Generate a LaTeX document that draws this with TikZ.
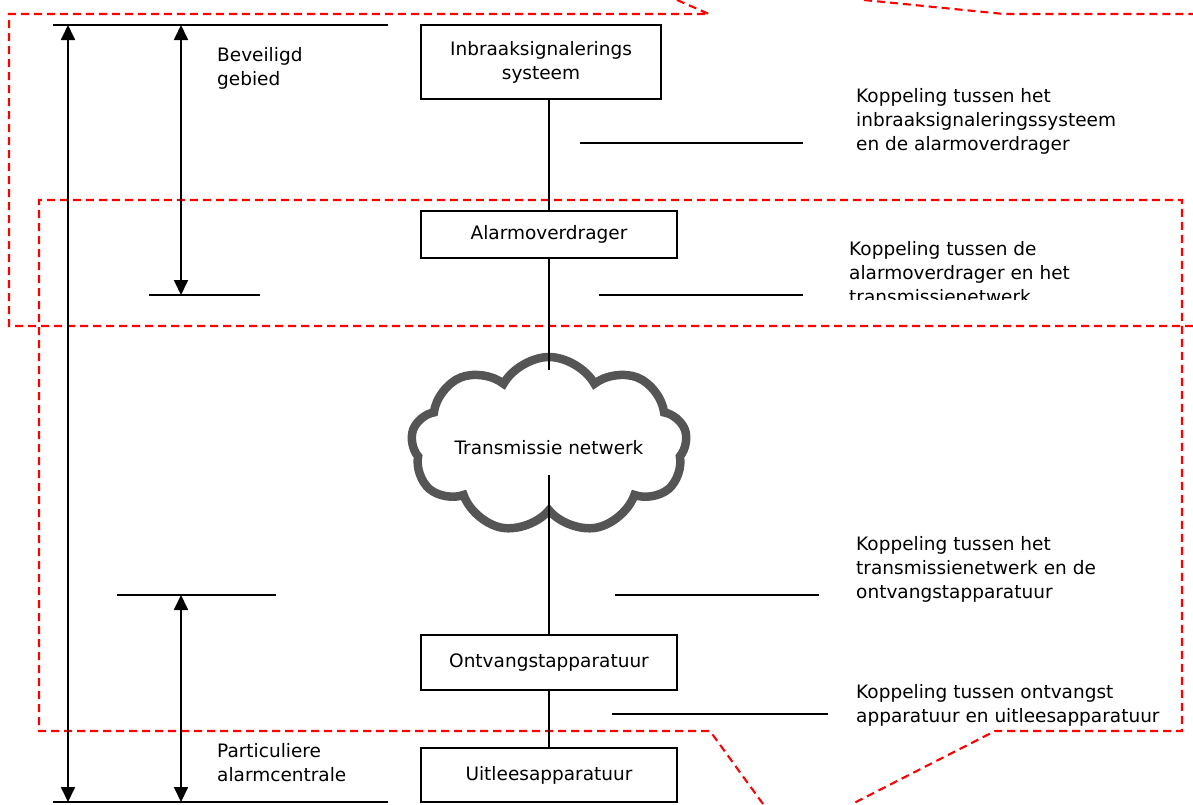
\documentclass[tikz,border=0pt]{standalone}
\usepackage{fontspec}
\setmainfont{DejaVu Sans}
\usetikzlibrary{arrows.meta,shapes.symbols}
\definecolor{cloudgray}{HTML}{555555}
\begin{document}
\begin{tikzpicture}[x=1pt,y=-1pt,
  every node/.style={font=\fontsize{18.5}{24}\selectfont},
  box/.style={draw=black,line width=1.8pt,inner sep=0pt},
  lbl/.style={anchor=west,align=left,inner sep=0pt},
  blk/.style={draw=black,line width=1.8pt},
  dim/.style={draw=black,line width=1.8pt,{Triangle[length=15pt,width=14pt]}-{Triangle[length=15pt,width=14pt]}},
  reddash/.style={draw=red,line width=2.1pt,dash pattern=on 8pt off 5pt},
  cloudline/.style={cloud,cloud puffs=9,cloud puff arc=122,aspect=1.6,draw=cloudgray,fill=white,line width=8.5pt}]
\useasboundingbox (0,0) rectangle (1193,804);

% red dashed regions
\draw[reddash] (677,0) -- (709,14) -- (9,14) -- (9,326) -- (1193,326);
\draw[reddash] (864,0) -- (1004,14) -- (1193,14);
\draw[reddash] (763,804) -- (710,731) -- (39,731) -- (39,200) -- (1182,200) -- (1182,731) -- (995,731) -- (852,804);

% boxes
\node[box,minimum width=240pt,minimum height=74pt,align=center] (ibs) at (541,62) {Inbraaksignalerings\\systeem};
\node[box,minimum width=256pt,minimum height=47pt] (amo) at (549,234.5) {Alarmoverdrager};
\node[box,minimum width=256pt,minimum height=55pt] (ont) at (549,662.5) {Ontvangstapparatuur};
\node[box,minimum width=256pt,minimum height=54pt] (uit) at (549,775) {Uitleesapparatuur};

% cloud
\node[cloudline,minimum width=276pt,minimum height=176pt] (cloudshape) at (549,445) {};
\node (net) at (549,448) {Transmissie netwerk};
\coordinate (nettop) at (549,370);
\coordinate (netbot) at (549,475);

% vertical chain
\draw[blk] (ibs.south -| amo.north) -- (amo.north);
\draw[blk] (amo.south) -- (nettop);
\draw[blk] (netbot) -- (ont.north);
\draw[blk] (ont.south) -- (uit.north);

% left measurement lines
\coordinate (t1) at (53,25);  \coordinate (t2) at (388,25);
\coordinate (b1) at (53,802); \coordinate (b2) at (388,802);
\coordinate (m1) at (149,295); \coordinate (m2) at (260,295);
\coordinate (n1) at (117,595); \coordinate (n2) at (276,595);
\draw[blk] (t1) -- (t2);
\draw[blk] (b1) -- (b2);
\draw[blk] (m1) -- (m2);
\draw[blk] (n1) -- (n2);
\coordinate (a1) at (68,25);  \coordinate (a2) at (68,802);
\coordinate (c1) at (181,25); \coordinate (c2) at (181,295);
\coordinate (d1) at (181,595); \coordinate (d2) at (181,802);
\draw[dim] (a1) -- (a2);
\draw[dim] (c1) -- (c2);
\draw[dim] (d1) -- (d2);

\node[lbl] (bev) at (217,68) {Beveiligd\\gebied};
\node[lbl] (par) at (217,763) {Particuliere\\alarmcentrale};

% right coupling lines and labels
\coordinate (k1a) at (580,143); \coordinate (k1b) at (803,143);
\coordinate (k2a) at (599,295); \coordinate (k2b) at (803,295);
\coordinate (k3a) at (615,595); \coordinate (k3b) at (819,595);
\coordinate (k4a) at (612,714); \coordinate (k4b) at (828,714);
\draw[blk] (k1a) -- (k1b);
\draw[blk] (k2a) -- (k2b);
\draw[blk] (k3a) -- (k3b);
\draw[blk] (k4a) -- (k4b);

\node[lbl] (kp1) at (856,121) {Koppeling tussen het\\inbraaksignaleringssysteem\\en de alarmoverdrager};
\begin{scope}
\clip (820,200) rectangle (1180,299.5);
\node[lbl] (kp2) at (849,273) {Koppeling tussen de\\alarmoverdrager en het\\transmissienetwerk};
\end{scope}
\node[lbl] (kp3) at (856,569) {Koppeling tussen het\\transmissienetwerk en de\\ontvangstapparatuur};
\node[lbl] (kp4) at (856,705) {Koppeling tussen ontvangst\\apparatuur en uitleesapparatuur};
\end{tikzpicture}
\end{document}
